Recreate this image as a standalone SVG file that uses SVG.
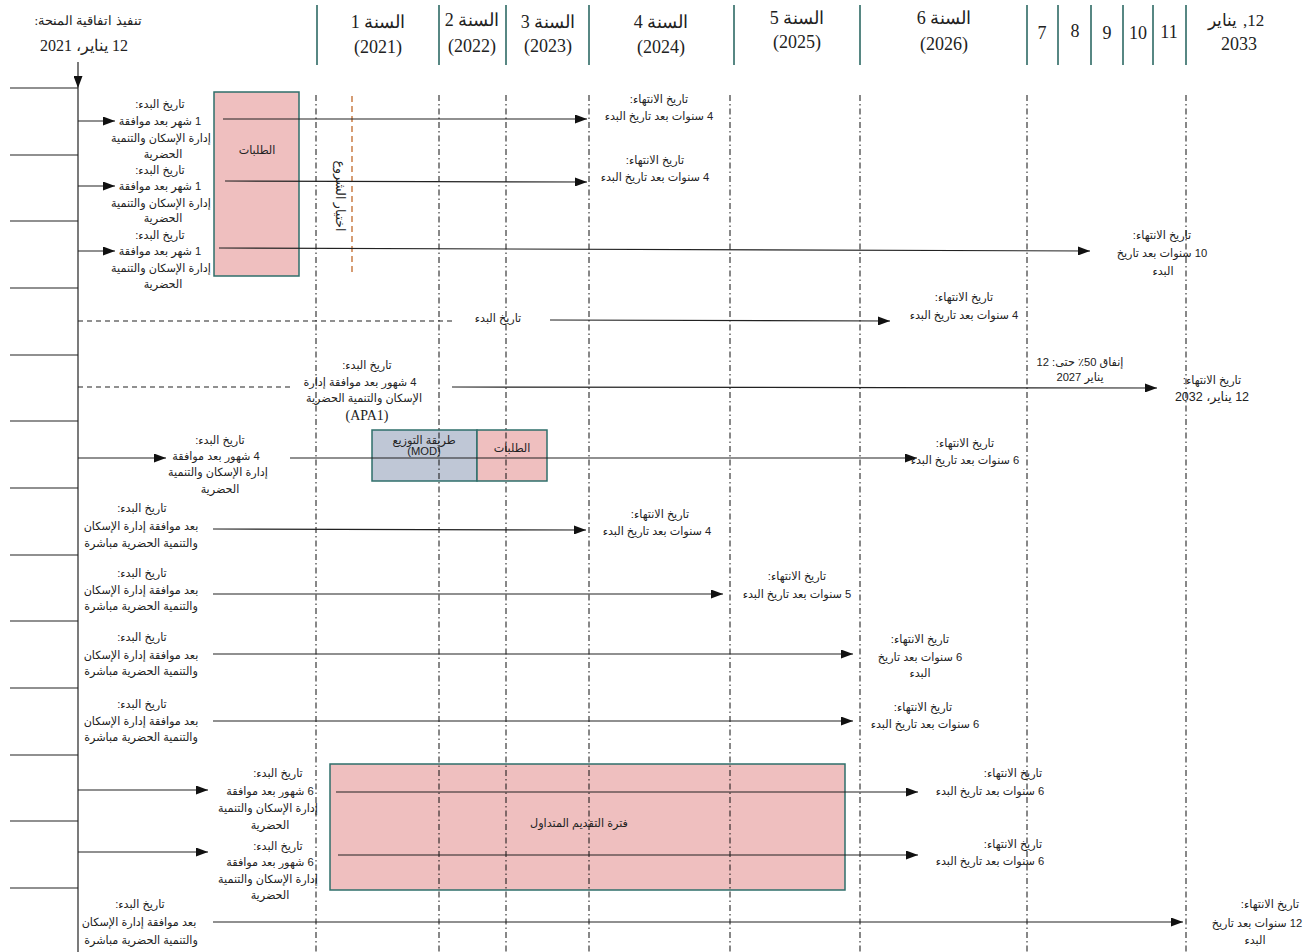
<svg xmlns="http://www.w3.org/2000/svg" width="1310" height="952" viewBox="0 0 1310 952">
<defs>
<marker id="ah" markerWidth="12" markerHeight="9" refX="12" refY="4.5" orient="auto" markerUnits="userSpaceOnUse">
<path d="M0,0 L12,4.5 L0,9 z" fill="#111"/>
</marker>
<style>
.t{font-family:"Liberation Sans","DejaVu Sans",sans-serif;font-size:11.2px;fill:#222;text-anchor:middle;direction:rtl;dominant-baseline:central}
.h{font-family:"Liberation Serif","DejaVu Serif",serif;font-size:18px;fill:#222;text-anchor:middle;direction:rtl;dominant-baseline:central}
.sep{stroke:#1f5f5a;stroke-width:1.5}
.grid{stroke:#111;stroke-width:1;stroke-dasharray:6 3 1.5 3}
.br{stroke:#222;stroke-width:1.2}
.ln{stroke:#222;stroke-width:1.2;fill:none}
.arr{stroke:#222;stroke-width:1.2;fill:none;marker-end:url(#ah)}
.dash{stroke:#222;stroke-width:1.2;stroke-dasharray:5 4;fill:none}
.pink{fill:#efbfbf;stroke:#2f6f6b;stroke-width:1.5}
.blue{fill:#bfc7d6;stroke:#2f6f6b;stroke-width:1.5}
</style>
</defs>
<rect width="1310" height="952" fill="#fff"/>

<g id="header">
<line class="sep" x1="317" y1="5" x2="317" y2="65"/>
<line class="sep" x1="439" y1="5" x2="439" y2="65"/>
<line class="sep" x1="506" y1="5" x2="506" y2="65"/>
<line class="sep" x1="589" y1="5" x2="589" y2="65"/>
<line class="sep" x1="734" y1="5" x2="734" y2="65"/>
<line class="sep" x1="860" y1="5" x2="860" y2="65"/>
<line class="sep" x1="1027" y1="5" x2="1027" y2="65"/>
<line class="sep" x1="1058" y1="5" x2="1058" y2="65"/>
<line class="sep" x1="1091" y1="5" x2="1091" y2="65"/>
<line class="sep" x1="1123" y1="5" x2="1123" y2="65"/>
<line class="sep" x1="1153" y1="5" x2="1153" y2="65"/>
<line class="sep" x1="1186" y1="5" x2="1186" y2="65"/>
<text class="h" x="88" y="20" style="font-size:13px">تنفيذ اتفاقية المنحة:</text>
<text class="h" x="84" y="45" style="font-size:16px">12 يناير، 2021</text>
<text class="h" x="378" y="22">السنة 1</text>
<text class="h" x="378" y="47">(2021)</text>
<text class="h" x="472" y="20">السنة 2</text>
<text class="h" x="472" y="46">(2022)</text>
<text class="h" x="548" y="22">السنة 3</text>
<text class="h" x="548" y="46">(2023)</text>
<text class="h" x="661" y="22">السنة 4</text>
<text class="h" x="661" y="47">(2024)</text>
<text class="h" x="797" y="18">السنة 5</text>
<text class="h" x="797" y="42">(2025)</text>
<text class="h" x="944" y="18">السنة 6</text>
<text class="h" x="944" y="44">(2026)</text>
<text class="h" x="1042" y="33">7</text>
<text class="h" x="1075" y="31">8</text>
<text class="h" x="1107" y="33">9</text>
<text class="h" x="1138" y="33">10</text>
<text class="h" x="1169" y="32">11</text>
<text class="h" x="1222" y="20" style="font-size:17px">يناير</text>
<text class="h" x="1243" y="20" style="direction:ltr;text-anchor:start;font-size:17px">,12</text>
<text class="h" x="1239" y="44">2033</text>
</g>

<g id="boxes">
<g id="box-talabat1"><rect class="pink" x="214" y="92" width="85" height="184"/><text class="t" x="257" y="150">الطلبات</text></g>
<g id="box-mod"><rect class="blue" x="372" y="430" width="105" height="51"/><text class="t" x="424" y="440">طريقة التوزيع</text><text class="t" x="424" y="451">(MOD)</text></g>
<g id="box-talabat2"><rect class="pink" x="477" y="430" width="70" height="51"/><text class="t" x="512" y="448">الطلبات</text></g>
<g id="box-rolling"><rect class="pink" x="330" y="764" width="515" height="126"/><text class="t" x="579" y="823">فترة التقديم المتداول</text></g>
</g>

<g id="grid">
<line class="grid" x1="316" y1="95" x2="316" y2="952"/>
<line class="grid" x1="439" y1="95" x2="439" y2="952"/>
<line class="grid" x1="506" y1="95" x2="506" y2="952"/>
<line class="grid" x1="589" y1="95" x2="589" y2="952"/>
<line class="grid" x1="730" y1="95" x2="730" y2="952"/>
<line class="grid" x1="860" y1="95" x2="860" y2="952"/>
<line class="grid" x1="1027" y1="95" x2="1027" y2="952"/>
<line class="grid" x1="1186" y1="95" x2="1186" y2="952"/>
<line x1="352" y1="96" x2="352" y2="273" stroke="#c0692a" stroke-width="1.3" stroke-dasharray="6 4"/>
<text class="t" transform="translate(340,196) rotate(90)" style="font-size:12.5px">اختيار الشروع</text>
</g>

<g id="connectors">
<line class="arr" x1="78" y1="62" x2="78" y2="88"/>
<line class="ln" x1="78" y1="88" x2="78" y2="952"/>
<line class="br" x1="10" y1="88" x2="78" y2="88"/>
<line class="br" x1="10" y1="155" x2="78" y2="155"/>
<line class="br" x1="10" y1="221" x2="78" y2="221"/>
<line class="br" x1="10" y1="288" x2="78" y2="288"/>
<line class="br" x1="10" y1="355" x2="78" y2="355"/>
<line class="br" x1="10" y1="421" x2="78" y2="421"/>
<line class="br" x1="10" y1="488" x2="78" y2="488"/>
<line class="br" x1="10" y1="555" x2="78" y2="555"/>
<line class="br" x1="10" y1="621" x2="78" y2="621"/>
<line class="br" x1="10" y1="688" x2="78" y2="688"/>
<line class="br" x1="10" y1="755" x2="78" y2="755"/>
<line class="br" x1="10" y1="821" x2="78" y2="821"/>
<line class="br" x1="10" y1="888" x2="78" y2="888"/>

<line class="arr" x1="78" y1="121" x2="115" y2="121"/>
<line class="arr" x1="78" y1="186" x2="115" y2="186"/>
<line class="arr" x1="78" y1="251" x2="115" y2="251"/>
<line class="arr" x1="223" y1="119" x2="587" y2="119"/>
<line class="arr" x1="225" y1="181" x2="587" y2="182"/>
<line class="arr" x1="219" y1="248" x2="1090" y2="251"/>
<line class="dash" x1="78" y1="321" x2="452" y2="321"/>
<line class="arr" x1="550" y1="320" x2="890" y2="321"/>
<line class="dash" x1="78" y1="387" x2="291" y2="387"/>
<line class="arr" x1="452" y1="387" x2="1157" y2="388"/>
<line class="arr" x1="78" y1="458" x2="166" y2="458"/>
<line class="arr" x1="290" y1="458" x2="917" y2="458"/>
<line class="arr" x1="213" y1="529" x2="586" y2="530"/>
<line class="arr" x1="213" y1="594" x2="723" y2="594"/>
<line class="arr" x1="213" y1="654" x2="853" y2="654"/>
<line class="arr" x1="213" y1="721" x2="853" y2="721"/>
<line class="arr" x1="78" y1="790" x2="208" y2="790"/>
<line class="arr" x1="336" y1="792" x2="918" y2="792"/>
<line class="arr" x1="78" y1="852" x2="208" y2="852"/>
<line class="arr" x1="338" y1="855" x2="918" y2="855"/>
<line class="arr" x1="213" y1="922" x2="1183" y2="922"/>
</g>

<g id="row1">
<text class="t" x="160" y="104">تاريخ البدء:</text>
<text class="t" x="160" y="121">1 شهر بعد موافقة</text>
<text class="t" x="161" y="138">إدارة الإسكان والتنمية</text>
<text class="t" x="163" y="154">الحضرية</text>
<text class="t" x="659" y="99">تاريخ الانتهاء:</text>
<text class="t" x="659" y="116">4 سنوات بعد تاريخ البدء</text>
</g>
<g id="row2">
<text class="t" x="160" y="170">تاريخ البدء:</text>
<text class="t" x="160" y="186">1 شهر بعد موافقة</text>
<text class="t" x="161" y="203">إدارة الإسكان والتنمية</text>
<text class="t" x="163" y="218">الحضرية</text>
<text class="t" x="655" y="160">تاريخ الانتهاء:</text>
<text class="t" x="655" y="177">4 سنوات بعد تاريخ البدء</text>
</g>
<g id="row3">
<text class="t" x="160" y="235">تاريخ البدء:</text>
<text class="t" x="160" y="251">1 شهر بعد موافقة</text>
<text class="t" x="161" y="268">إدارة الإسكان والتنمية</text>
<text class="t" x="163" y="284">الحضرية</text>
<text class="t" x="1162" y="235">تاريخ الانتهاء:</text>
<text class="t" x="1162" y="253">10 سنوات بعد تاريخ</text>
<text class="t" x="1163" y="271">البدء</text>
</g>
<g id="row4">
<text class="t" x="498" y="318">تاريخ البدء</text>
<text class="t" x="964" y="297">تاريخ الانتهاء:</text>
<text class="t" x="964" y="315">4 سنوات بعد تاريخ البدء</text>
</g>
<g id="row5">
<text class="t" x="367" y="365">تاريخ البدء:</text>
<text class="t" x="360" y="382">4 شهور بعد موافقة إدارة</text>
<text class="t" x="364" y="398">الإسكان والتنمية الحضرية</text>
<text class="t" x="367" y="415" style="font-family:'Liberation Serif',serif;font-size:14px">(APA1)</text>
<text class="t" x="1080" y="362">إنفاق 50٪ حتى: 12</text>
<text class="t" x="1080" y="377">يناير 2027</text>
<text class="t" x="1212" y="380">تاريخ الانتهاء:</text>
<text class="t" x="1212" y="397" style="font-size:12.5px">12 يناير، 2032</text>
</g>
<g id="row6">
<text class="t" x="220" y="440">تاريخ البدء:</text>
<text class="t" x="216" y="456">4 شهور بعد موافقة</text>
<text class="t" x="218" y="472">إدارة الإسكان والتنمية</text>
<text class="t" x="220" y="489">الحضرية</text>
<text class="t" x="965" y="443">تاريخ الانتهاء:</text>
<text class="t" x="965" y="460">6 سنوات بعد تاريخ البدء</text>
</g>
<g id="row7">
<text class="t" x="142" y="508">تاريخ البدء:</text>
<text class="t" x="141" y="526">بعد موافقة إدارة الإسكان</text>
<text class="t" x="141" y="543">والتنمية الحضرية مباشرة</text>
<text class="t" x="660" y="514">تاريخ الانتهاء:</text>
<text class="t" x="657" y="531">4 سنوات بعد تاريخ البدء</text>
</g>
<g id="row8">
<text class="t" x="142" y="573">تاريخ البدء:</text>
<text class="t" x="141" y="590">بعد موافقة إدارة الإسكان</text>
<text class="t" x="141" y="606">والتنمية الحضرية مباشرة</text>
<text class="t" x="797" y="576">تاريخ الانتهاء:</text>
<text class="t" x="797" y="594">5 سنوات بعد تاريخ البدء</text>
</g>
<g id="row9">
<text class="t" x="142" y="637">تاريخ البدء:</text>
<text class="t" x="141" y="655">بعد موافقة إدارة الإسكان</text>
<text class="t" x="141" y="671">والتنمية الحضرية مباشرة</text>
<text class="t" x="920" y="639">تاريخ الانتهاء:</text>
<text class="t" x="920" y="657">6 سنوات بعد تاريخ</text>
<text class="t" x="920" y="673">البدء</text>
</g>
<g id="row10">
<text class="t" x="142" y="704">تاريخ البدء:</text>
<text class="t" x="141" y="721">بعد موافقة إدارة الإسكان</text>
<text class="t" x="141" y="737">والتنمية الحضرية مباشرة</text>
<text class="t" x="923" y="707">تاريخ الانتهاء:</text>
<text class="t" x="925" y="724">6 سنوات بعد تاريخ البدء</text>
</g>
<g id="row11">
<text class="t" x="278" y="773">تاريخ البدء:</text>
<text class="t" x="270" y="791">6 شهور بعد موافقة</text>
<text class="t" x="268" y="808">إدارة الإسكان والتنمية</text>
<text class="t" x="270" y="825">الحضرية</text>
<text class="t" x="1013" y="773">تاريخ الانتهاء:</text>
<text class="t" x="990" y="791">6 سنوات بعد تاريخ البدء</text>
</g>
<g id="row12">
<text class="t" x="278" y="846">تاريخ البدء:</text>
<text class="t" x="270" y="862">6 شهور بعد موافقة</text>
<text class="t" x="268" y="879">إدارة الإسكان والتنمية</text>
<text class="t" x="270" y="895">الحضرية</text>
<text class="t" x="1013" y="844">تاريخ الانتهاء:</text>
<text class="t" x="990" y="861">6 سنوات بعد تاريخ البدء</text>
</g>
<g id="row13">
<text class="t" x="140" y="904">تاريخ البدء:</text>
<text class="t" x="139" y="922">بعد موافقة إدارة الإسكان</text>
<text class="t" x="141" y="940">والتنمية الحضرية مباشرة</text>
<text class="t" x="1270" y="904">تاريخ الانتهاء:</text>
<text class="t" x="1257" y="923">12 سنوات بعد تاريخ</text>
<text class="t" x="1255" y="940">البدء</text>
</g>
</svg>
